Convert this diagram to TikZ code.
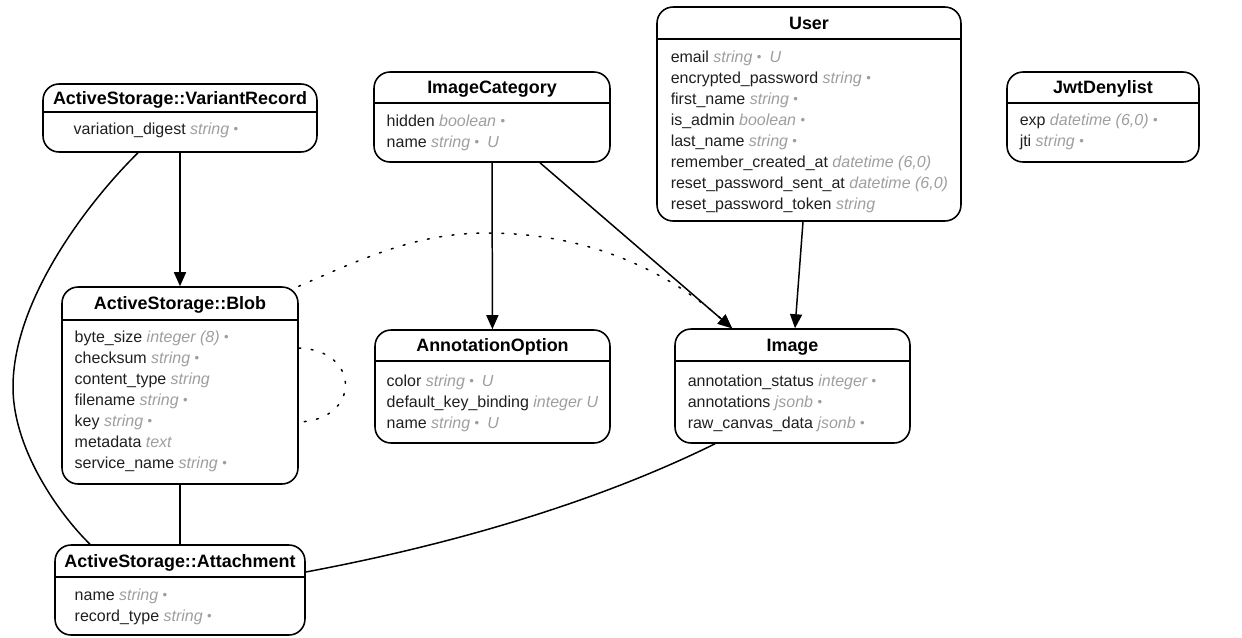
\documentclass[tikz,border=0pt]{standalone}
\usepackage{fontspec}
\setmainfont{Liberation Sans}
\usepackage{xcolor}
\usetikzlibrary{shapes,arrows.meta}

\definecolor{typegray}{RGB}{158,158,158}
\newcommand\titlefont{\fontsize{10.2}{12}\selectfont\bfseries}
\newcommand\fieldfont{\fontsize{9.1}{11.95}\selectfont}
\newcommand\dtype[1]{{\color{typegray}\itshape #1}}
\newcommand\notnull{\raisebox{0.3pt}{\fontsize{7.5}{7.5}\selectfont\upshape •}}

\begin{document}
\begin{tikzpicture}[x=0.02cm, y=-0.02cm, line width=0.85pt,
    entity/.style={draw, rounded corners=0.32cm, line width=0.9pt},
    entitytitle/.style={font=\titlefont, anchor=base, inner sep=0pt},
    fields/.style={align=left, anchor=north west, inner sep=0pt, font=\fieldfont, text=black!88},
    rel/.style={-{Triangle[length=0.28cm, width=0.24cm]}},
    weak/.style={dash pattern=on 1.1pt off 6pt, line cap=round}]
    \useasboundingbox (0,0) rectangle (1242,637);

    % entities
    \node (varrec) [entity, minimum width=5.48cm, minimum height=1.36cm] at (180,118) {};
    \node (varrectitle) [entitytitle] at ([yshift=-0.43cm]varrec.north) {ActiveStorage::VariantRecord};
    \draw ([yshift=-0.58cm]varrec.north west) -- ([yshift=-0.58cm]varrec.north east);
    \node (varrecfields) [fields] at (73,122) {variation\_digest \dtype{string \notnull}};

    \node (blob) [entity, minimum width=4.72cm, minimum height=3.94cm] at (180,385.5) {};
    \node (blobtitle) [entitytitle] at ([yshift=-0.47cm]blob.north) {ActiveStorage::Blob};
    \draw ([yshift=-0.68cm]blob.north west) -- ([yshift=-0.68cm]blob.north east);
    \node (blobfields) [fields] at (74,330) {byte\_size \dtype{integer (8) \notnull}\\
        checksum \dtype{string \notnull}\\
        content\_type \dtype{string}\\
        filename \dtype{string \notnull}\\
        key \dtype{string \notnull}\\
        metadata \dtype{text}\\
        service\_name \dtype{string \notnull}};

    \node (imgcat) [entity, minimum width=4.72cm, minimum height=1.8cm] at (492,117) {};
    \node (imgcattitle) [entitytitle] at ([yshift=-0.45cm]imgcat.north) {ImageCategory};
    \draw ([yshift=-0.64cm]imgcat.north west) -- ([yshift=-0.64cm]imgcat.north east);
    \node (imgcatfields) [fields] at (386,114) {hidden \dtype{boolean \notnull}\\
        name \dtype{string \notnull\enspace U}};

    \node (annopt) [entity, minimum width=4.70cm, minimum height=2.26cm] at (492.5,386.5) {};
    \node (annopttitle) [entitytitle] at ([yshift=-0.45cm]annopt.north) {AnnotationOption};
    \draw ([yshift=-0.64cm]annopt.north west) -- ([yshift=-0.64cm]annopt.north east);
    \node (annoptfields) [fields] at (386,374) {color \dtype{string \notnull\enspace U}\\
        default\_key\_binding \dtype{integer U}\\
        name \dtype{string \notnull\enspace U}};

    \node (user) [entity, minimum width=6.08cm, minimum height=4.28cm] at (809,114) {};
    \node (usertitle) [entitytitle] at ([yshift=-0.46cm]user.north) {User};
    \draw ([yshift=-0.66cm]user.north west) -- ([yshift=-0.66cm]user.north east);
    \node (userfields) [fields] at (670,50) {email \dtype{string \notnull\enspace U}\\
        encrypted\_password \dtype{string \notnull}\\
        first\_name \dtype{string \notnull}\\
        is\_admin \dtype{boolean \notnull}\\
        last\_name \dtype{string \notnull}\\
        remember\_created\_at \dtype{datetime (6,0)}\\
        reset\_password\_sent\_at \dtype{datetime (6,0)}\\
        reset\_password\_token \dtype{string}};

    \node (jwt) [entity, minimum width=3.84cm, minimum height=1.8cm] at (1103,117) {};
    \node (jwttitle) [entitytitle] at ([yshift=-0.45cm]jwt.north) {JwtDenylist};
    \draw ([yshift=-0.64cm]jwt.north west) -- ([yshift=-0.64cm]jwt.north east);
    \node (jwtfields) [fields] at (1019,113) {exp \dtype{datetime (6,0) \notnull}\\
        jti \dtype{string \notnull}};

    \node (image) [entity, minimum width=4.70cm, minimum height=2.28cm] at (792.5,386) {};
    \node (imagetitle) [entitytitle] at ([yshift=-0.46cm]image.north) {Image};
    \draw ([yshift=-0.66cm]image.north west) -- ([yshift=-0.66cm]image.north east);
    \node (imagefields) [fields] at (687,374) {annotation\_status \dtype{integer \notnull}\\
        annotations \dtype{jsonb \notnull}\\
        raw\_canvas\_data \dtype{jsonb \notnull}};

    \node (attach) [entity, minimum width=5.0cm, minimum height=1.8cm] at (180,590) {};
    \node (attachtitle) [entitytitle] at ([yshift=-0.46cm]attach.north) {ActiveStorage::Attachment};
    \draw ([yshift=-0.66cm]attach.north west) -- ([yshift=-0.66cm]attach.north east);
    \node (attachfields) [fields] at (74,588) {name \dtype{string \notnull}\\
        record\_type \dtype{string \notnull}};

    % relations
    \draw[rel] (varrec) -- (blob);
    \draw ([xshift=-0.84cm]varrec.south) .. controls (88,202) and (13,300) .. (13,387)
        .. controls (13,450) and (60,515) .. ([xshift=-1.8cm]attach.north);
    \draw (blob) -- (attach);
    \draw[weak] ([yshift=0.75cm]blob.east) .. controls (361,350) and (361,420) .. ([yshift=-0.73cm]blob.east);
    \draw[weak, rel] (blob.north east) .. controls (370,255) and (420,233) .. (487,233)
        .. controls (580,233) and (660,265) .. ([xshift=-1.21cm]image.north);
    \draw[rel] (imgcat) -- (annopt);
    \draw[rel] ([xshift=0.96cm]imgcat.south) -- ([xshift=-1.21cm]image.north);
    \draw[rel] ([xshift=-0.12cm]user.south) -- ([xshift=0.05cm]image.north);
    \draw ([xshift=-1.55cm]image.south) .. controls (595,503) and (450,545) .. ([yshift=0.36cm]attach.east);
\end{tikzpicture}
\end{document}
